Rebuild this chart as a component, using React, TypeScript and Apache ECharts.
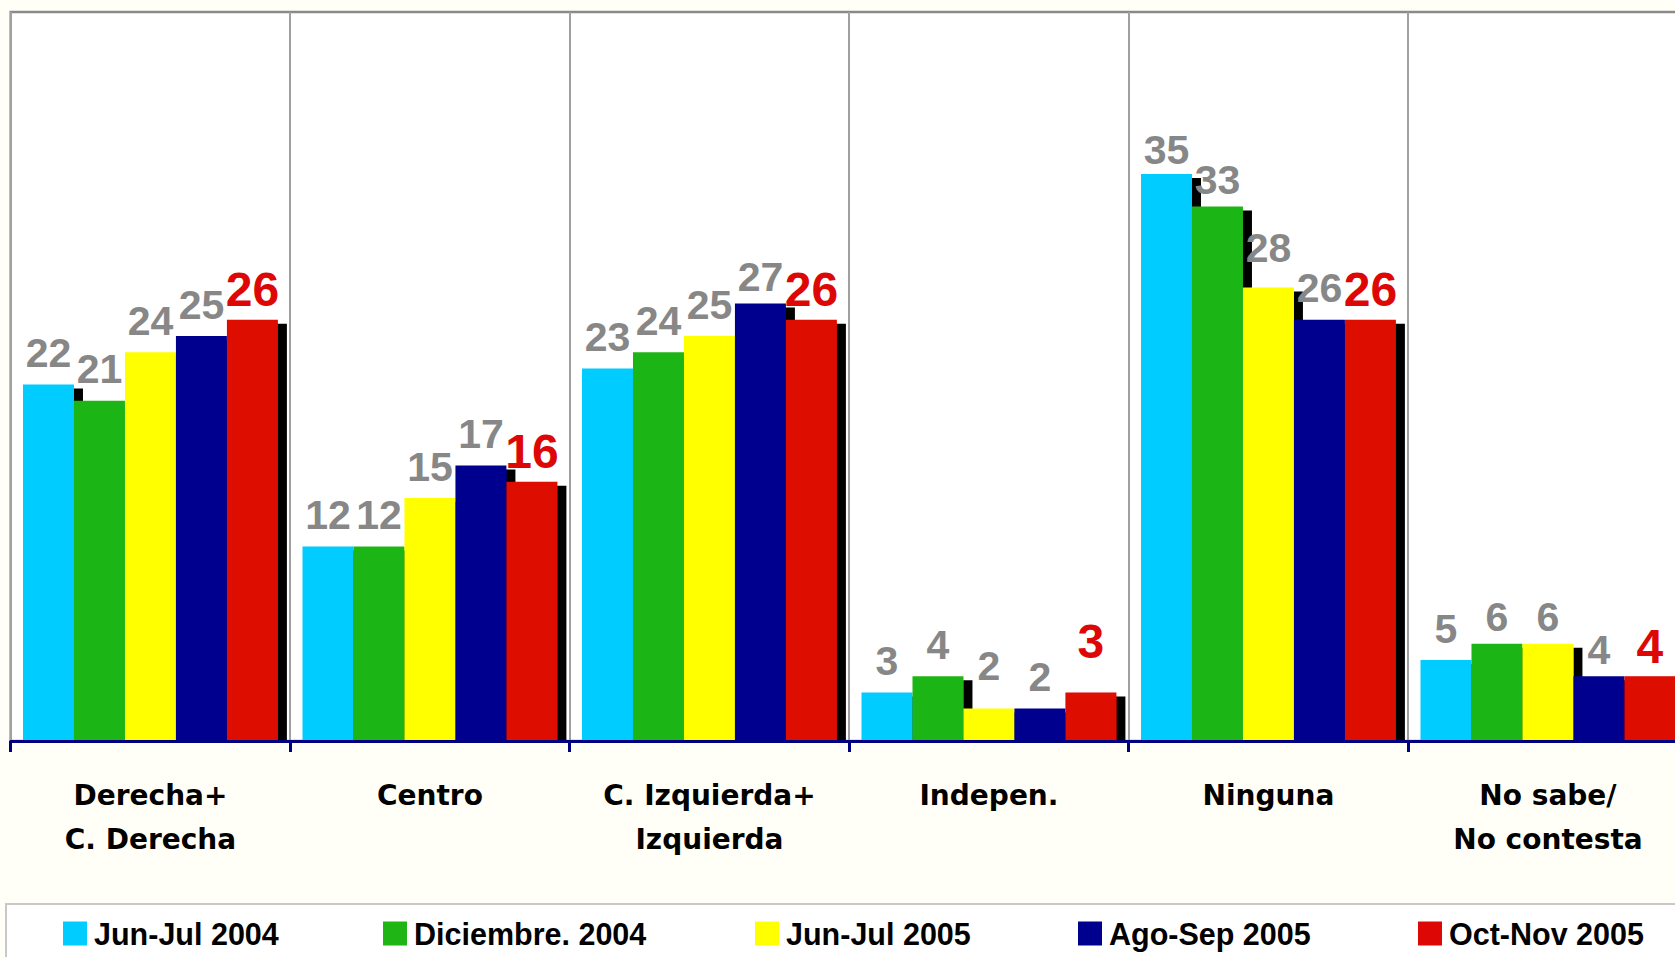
import React, { useEffect, useRef } from "react";
import * as echarts from "echarts";

const categories = [
  "Derecha+\nC. Derecha",
  "Centro",
  "C. Izquierda+\nIzquierda",
  "Indepen.",
  "Ninguna",
  "No sabe/\nNo contesta",
];
const seriesNames = [
  "Jun-Jul 2004",
  "Diciembre. 2004",
  "Jun-Jul 2005",
  "Ago-Sep 2005",
  "Oct-Nov 2005",
];
const junJul2004 = [22, 12, 23, 3, 35, 5];
const diciembre2004 = [21, 12, 24, 4, 33, 6];
const junJul2005 = [24, 15, 25, 2, 28, 6];
const agoSep2005 = [25, 17, 27, 2, 26, 4];
const octNov2005 = [26, 16, 26, 3, 26, 4];

const seriesValues = [junJul2004, diciembre2004, junJul2005, agoSep2005, octNov2005];
const colors = ["#00CCFF", "#1FB515", "#FFFF00", "#00008F", "#DD0806"];
const legendLeft = [63, 383, 755, 1078, 1418];
const BG = "#FFFFF7";

// label placement tweaks: [series, category, distance]
const labelTweaks: [number, number, number][] = [
  [4, 3, 27],
  [2, 3, 22],
  [2, 4, 19],
  [0, 4, 4],
  [1, 4, 6],
  [3, 2, 6],
  [1, 5, 6],
  [2, 5, 6],
  [3, 5, 6],
];

export default function App() {
  const ref = useRef<HTMLDivElement>(null);
  useEffect(() => {
    if (!ref.current) return;
    const chart = echarts.init(ref.current, undefined, { renderer: "svg" });
    const series = seriesValues.map((vals, i) => {
      const last = i === seriesValues.length - 1;
      return {
        type: "bar",
        name: seriesNames[i],
        data: vals.map((v, j) => {
          const t = labelTweaks.find((x) => x[0] === i && x[1] === j);
          return t ? { value: v, label: { distance: t[2] } } : { value: v };
        }),
        barGap: "0%",
        barCategoryGap: "8.8%",
        z: 2,
        itemStyle: {
          color: colors[i],
          shadowColor: "#000",
          shadowBlur: 0,
          shadowOffsetX: 9,
          shadowOffsetY: 4,
        },
        label: {
          show: true,
          position: "top",
          distance: last ? 6 : 11,
          color: last ? "#DD0806" : "#878787",
          fontFamily: "'Liberation Sans', Arial, sans-serif",
          fontWeight: "bold",
          fontSize: last ? 48 : 41,
        },
      };
    });
    const legends = seriesNames.map((n, i) => ({
      data: [n],
      left: legendLeft[i],
      top: 918,
      padding: 0,
      itemGap: 0,
      itemWidth: 24,
      itemHeight: 24,
      icon: "rect",
      selectedMode: false,
      z: 6,
      itemStyle: { shadowBlur: 0, shadowOffsetX: 0, shadowOffsetY: 0, shadowColor: "transparent" },
      textStyle: {
        fontFamily: "'Liberation Sans', Arial, sans-serif",
        fontWeight: "bold",
        fontSize: 30.5,
        color: "#000",
        padding: [0, 0, 0, 2],
      },
    }));
    chart.setOption({
      animation: false,
      backgroundColor: BG,
      grid: {
        left: 10.7,
        top: 12,
        width: 1677,
        height: 729,
        show: true,
        outerBoundsMode: "none",
        containLabel: false,
        backgroundColor: "#FFFFFF",
        borderColor: "#8A8A8A",
        borderWidth: 2.5,
      },
      legend: legends,
      xAxis: {
        type: "category",
        data: categories,
        boundaryGap: true,
        z: 4,
        axisLine: { show: true, lineStyle: { color: "#000080", width: 3 } },
        axisTick: { show: true, length: 11, lineStyle: { color: "#000080", width: 3 } },
        splitLine: { show: true, lineStyle: { color: "#A0A0A0", width: 2 } },
        axisLabel: {
          interval: 0,
          margin: 32,
          color: "#000",
          fontFamily: "'DejaVu Sans', sans-serif",
          fontWeight: "bold",
          fontSize: 28,
          lineHeight: 44,
        },
      },
      yAxis: {
        type: "value",
        min: 0,
        max: 45,
        show: false,
        splitLine: { show: false },
      },
      graphic: [
        {
          type: "rect",
          z: 3,
          shape: { x: 0, y: 742.5, width: 1675, height: 14 },
          style: { fill: BG },
          silent: true,
        },
        {
          type: "rect",
          z: 1,
          shape: { x: 6, y: 904, width: 1700, height: 100 },
          style: { fill: "#FFFFFF", stroke: "#C8C8C8", lineWidth: 2 },
          silent: true,
        },
      ],
      series,
    });
    return () => chart.dispose();
  }, []);
  return (
    <div
      ref={ref}
      style={{ position: "fixed", left: 0, top: 0, width: 1675, height: 957 }}
    />
  );
}
